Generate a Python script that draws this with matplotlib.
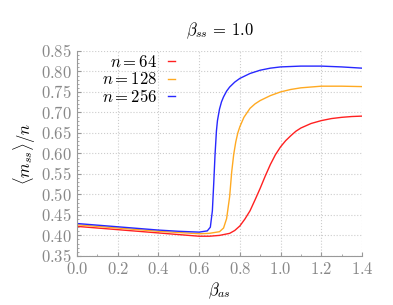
import matplotlib
matplotlib.use("Agg")
import matplotlib.pyplot as plt
from matplotlib.ticker import AutoMinorLocator, FuncFormatter, MultipleLocator

plt.rcParams["mathtext.fontset"] = "cm"
plt.rcParams["font.family"] = "serif"

# n = 64
x_64 = [0.0, 0.1, 0.2, 0.3, 0.4, 0.5, 0.6, 0.65, 0.7, 0.75, 0.775, 0.8, 0.825,
        0.85, 0.875, 0.9, 0.925, 0.95, 0.975, 1.0, 1.025, 1.05, 1.075, 1.1,
        1.15, 1.2, 1.25, 1.3, 1.35, 1.4]
m_64 = [0.422, 0.418, 0.414, 0.410, 0.406, 0.402, 0.398, 0.398, 0.400, 0.405,
        0.412, 0.423, 0.440, 0.460, 0.487, 0.515, 0.545, 0.573, 0.597, 0.616,
        0.631, 0.643, 0.654, 0.662, 0.673, 0.680, 0.685, 0.688, 0.690, 0.691]

# n = 128
x_128 = [0.0, 0.1, 0.2, 0.3, 0.4, 0.5, 0.6, 0.65, 0.7, 0.72, 0.735, 0.75,
         0.76, 0.77, 0.78, 0.79, 0.8, 0.82, 0.85, 0.875, 0.9, 0.95, 1.0, 1.05,
         1.1, 1.2, 1.3, 1.4]
m_128 = [0.426, 0.422, 0.418, 0.414, 0.410, 0.407, 0.404, 0.405, 0.409, 0.418,
         0.441, 0.495, 0.555, 0.598, 0.628, 0.650, 0.665, 0.688, 0.710, 0.721,
         0.729, 0.741, 0.750, 0.756, 0.760, 0.764, 0.764, 0.763]

# n = 256
x_256 = [0.0, 0.1, 0.2, 0.3, 0.4, 0.5, 0.6, 0.64, 0.655, 0.665, 0.672, 0.678,
         0.685, 0.69, 0.70, 0.71, 0.72, 0.735, 0.75, 0.775, 0.8, 0.85, 0.9,
         0.95, 1.0, 1.1, 1.2, 1.3, 1.4]
m_256 = [0.429, 0.425, 0.421, 0.417, 0.413, 0.410, 0.408, 0.411, 0.420, 0.460,
         0.530, 0.596, 0.655, 0.680, 0.708, 0.726, 0.738, 0.752, 0.762, 0.774,
         0.783, 0.795, 0.803, 0.808, 0.811, 0.813, 0.813, 0.811, 0.808]

fig = plt.figure(figsize=(3.93, 3.05), dpi=100)
ax = fig.add_axes([0.196, 0.161, 0.725, 0.672])

ax.plot(x_64, m_64, color="#ff2020", linewidth=1.0, label=r"$n = 64$")
ax.plot(x_128, m_128, color="#ffaa22", linewidth=1.0, label=r"$n = 128$")
ax.plot(x_256, m_256, color="#2828ff", linewidth=1.0, label=r"$n = 256$")

ax.set_xlim(0, 1.4)
ax.set_ylim(0.35, 0.85)
ax.xaxis.set_major_locator(MultipleLocator(0.2))
ax.yaxis.set_major_locator(MultipleLocator(0.05))
ax.xaxis.set_minor_locator(AutoMinorLocator(2))
ax.yaxis.set_minor_locator(AutoMinorLocator(5))
ax.xaxis.set_major_formatter(FuncFormatter(lambda v, p: f"${v:.1f}$"))
ax.yaxis.set_major_formatter(FuncFormatter(lambda v, p: f"${v:.2f}$"))

for side in ["top", "right"]:
    ax.spines[side].set_visible(False)
for side in ["left", "bottom"]:
    ax.spines[side].set_color("#999999")
    ax.spines[side].set_linewidth(0.8)

ax.tick_params(which="both", direction="in", colors="#999999",
               labelcolor="#888888", labelsize=12)
ax.tick_params(which="major", length=3)
ax.tick_params(which="minor", length=1.5)
ax.grid(True, which="major", linestyle=":", color="#cccccc", linewidth=0.8)

ax.set_title(r"$\beta_{ss}\,=\,1.0$", fontsize=12, pad=11)
ax.set_xlabel(r"$\beta_{as}$", fontsize=12, labelpad=2)
ax.set_ylabel(r"$\langle m_{ss}\rangle/n$", fontsize=12, labelpad=2)

ax.legend(loc="upper right", bbox_to_anchor=(0.368, 1.02), borderaxespad=0,
          frameon=False, markerfirst=False, handlelength=0.42,
          handletextpad=0.65, labelspacing=0.05, fontsize=12)

fig.savefig("out.png", dpi=100)
